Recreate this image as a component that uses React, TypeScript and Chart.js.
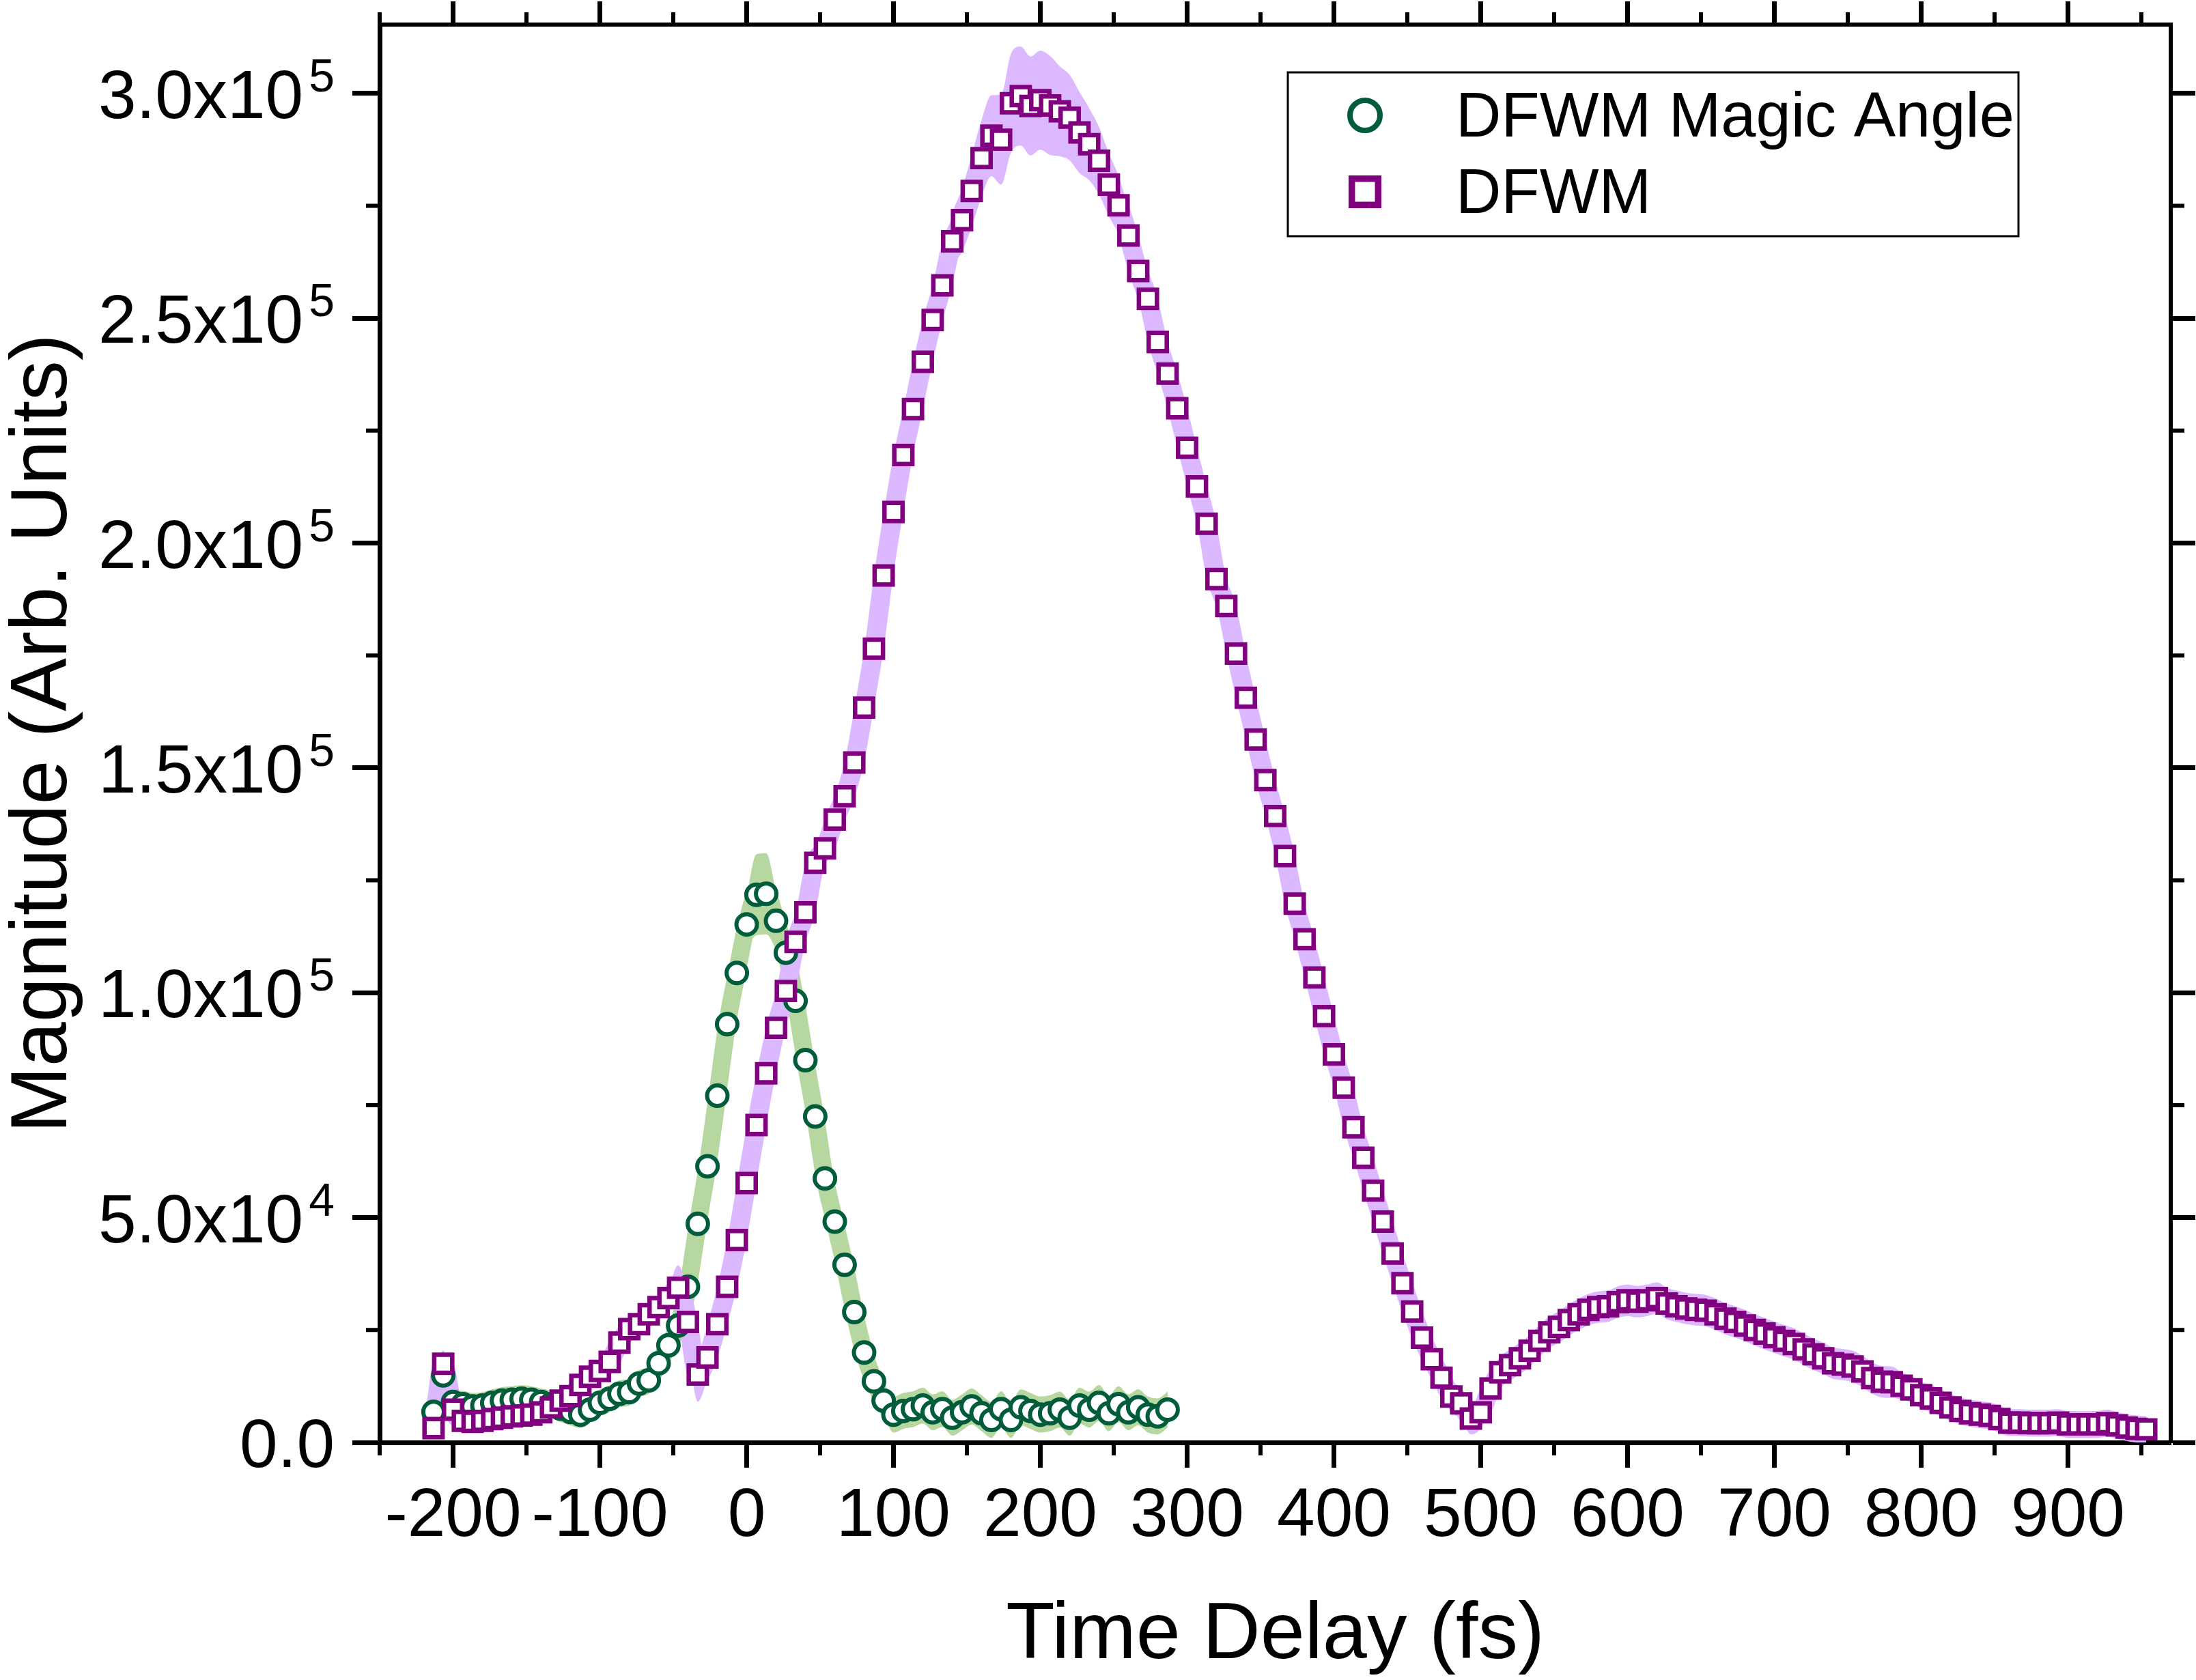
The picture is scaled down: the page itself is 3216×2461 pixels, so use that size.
import { useEffect, useRef } from 'react'
import { Chart, registerables } from 'chart.js'

Chart.register(...registerables)

const FONT = "'Liberation Sans', Arial, sans-serif"

// time delay (fs) of every scan step, one step is about 6.67 fs
const delays = [
  -213.3, -206.7, -200, -193.3, -186.7, -180, -173.3, -166.7, -160, -153.3,
  -146.7, -140, -133.3, -126.7, -120, -113.3, -106.7, -100, -93.3, -86.7,
  -80, -73.3, -66.7, -60, -53.3, -46.7, -40, -33.3, -26.7, -20,
  -13.3, -6.7, 0, 6.7, 13.3, 20, 26.7, 33.3, 40, 46.7,
  53.3, 60, 66.7, 73.3, 80, 86.7, 93.3, 100, 106.7, 113.3,
  120, 126.7, 133.3, 140, 146.7, 153.3, 160, 166.7, 173.3, 180,
  186.7, 193.3, 200, 206.7, 213.3, 220, 226.7, 233.3, 240, 246.7,
  253.3, 260, 266.7, 273.3, 280, 286.7, 293.3, 300, 306.7, 313.3,
  320, 326.7, 333.3, 340, 346.7, 353.3, 360, 366.7, 373.3, 380,
  386.7, 393.3, 400, 406.7, 413.3, 420, 426.7, 433.3, 440, 446.7,
  453.3, 460, 466.7, 473.3, 480, 486.7, 493.3, 500, 506.7, 513.3,
  520, 526.7, 533.3, 540, 546.7, 553.3, 560, 566.7, 573.3, 580,
  586.7, 593.3, 600, 606.7, 613.3, 620, 626.7, 633.3, 640, 646.7,
  653.3, 660, 666.7, 673.3, 680, 686.7, 693.3, 700, 706.7, 713.3,
  720, 726.7, 733.3, 740, 746.7, 753.3, 760, 766.7, 773.3, 780,
  786.7, 793.3, 800, 806.7, 813.3, 820, 826.7, 833.3, 840, 846.7,
  853.3, 860, 866.7, 873.3, 880, 886.7, 893.3, 900, 906.7, 913.3,
  920, 926.7, 933.3, 940, 946.7, 953.3,
]

// DFWM magic angle (first 76 delays)
const magicAngle = [
  6800, 14900, 9000, 8500, 8000, 8200, 8800, 9300, 9500, 9700,
  9500, 9000, 8500, 7500, 6800, 6200, 7300, 8800, 9700, 10800,
  11200, 13100, 13800, 17600, 21600, 26000, 34600, 48600, 61400, 77100,
  93000, 104400, 115200, 121800, 122000, 116000, 108900, 98200, 85000, 72500,
  58700, 49100, 39500, 29000, 20000, 13600, 9300, 6200, 7000, 7400,
  8200, 6700, 7400, 5500, 6700, 8000, 6500, 5000, 7400, 5000,
  7800, 7000, 6200, 6500, 7300, 5500, 8200, 7300, 8800, 6500,
  8500, 6700, 7800, 6200, 5800, 7300,
]

const magicAngleErr = [
  3000, 3000, 3000, 3000, 3000, 3000, 3000, 3000, 3000, 3000,
  3000, 3000, 3000, 3000, 3000, 3000, 3000, 3000, 3000, 3000,
  3000, 3000, 3000, 3000, 3000, 3000, 3000, 3000, 3000, 3000,
  3000, 3000, 6000, 9000, 9000, 6500, 4500, 3500, 3000, 3000,
  3000, 3000, 3000, 3000, 3000, 3000, 3000, 4000, 4000, 4000,
  4000, 4000, 4000, 4000, 4000, 4000, 4000, 4000, 4000, 4000,
  4000, 4000, 4000, 4000, 4000, 4000, 4000, 4000, 4000, 4000,
  4000, 4000, 4000, 4000, 4000, 4000,
]

// DFWM (all delays)
const dfwm = [
  3200, 17500, 7300, 4800, 4600, 4800, 5200, 5500, 5800, 6000,
  6200, 6700, 7800, 9300, 10300, 12800, 14600, 15900, 17900, 22200,
  25200, 26300, 28500, 30100, 32100, 34400, 26800, 15100, 18900, 26300,
  34600, 45000, 57700, 70600, 82100, 92200, 100400, 111300, 117900, 128900,
  132100, 138500, 143700, 151200, 163400, 176500, 192800, 206900, 219600, 229800,
  240300, 249600, 257300, 267100, 271800, 278300, 285600, 290600, 289700, 297800,
  299400, 297200, 298500, 297300, 296000, 294600, 291300, 288700, 285000, 279700,
  275100, 268400, 260500, 254300, 244700, 237700, 230000, 221200, 212600, 204300,
  192000, 186000, 175400, 165600, 156300, 147300, 139300, 130400, 119800, 111900,
  103400, 94800, 86300, 78900, 70100, 63300, 56000, 49100, 42000, 35400,
  29100, 23300, 18500, 14400, 10200, 8700, 5300, 6700, 12000, 15600,
  17200, 18700, 20400, 22600, 24500, 25700, 27200, 28500, 29500, 30100,
  30300, 31200, 31600, 31300, 31600, 32100, 30900, 30300, 29800, 29500,
  29300, 28500, 27500, 26800, 26000, 25000, 24200, 23400, 22600, 21900,
  20700, 19600, 18700, 17600, 17300, 16900, 15800, 14300, 13500, 13400,
  12600, 11800, 10500, 9800, 8800, 7800, 7000, 6500, 6200, 5900,
  5200, 4400, 4400, 4300, 4300, 4300, 4400, 4000, 4000, 4000,
  4000, 4300, 3800, 3300, 3000, 2900,
]

const dfwmErr = [
  2500, 3000, 2500, 2500, 2500, 2500, 2500, 2500, 2500, 2500,
  2500, 2500, 2500, 2500, 2500, 2500, 2500, 2500, 2500, 2500,
  2500, 2500, 2500, 2500, 2500, 5000, 6000, 6000, 4500, 3500,
  3500, 3500, 3500, 3500, 3500, 3500, 3500, 3500, 3500, 3500,
  3500, 3500, 3500, 3500, 3500, 3500, 3500, 3500, 3500, 3500,
  3500, 4000, 5000, 6000, 7000, 8000, 8500, 9000, 10000, 11000,
  11000, 11000, 11000, 11000, 10000, 9500, 9000, 8000, 7500, 7000,
  6500, 6000, 5500, 5000, 4500, 4000, 3500, 3500, 3500, 3500,
  3500, 3500, 3500, 3500, 3500, 3500, 3500, 3500, 3500, 3500,
  3500, 3500, 3500, 3500, 3500, 3500, 3500, 3500, 3500, 3500,
  3500, 3500, 3500, 3500, 3500, 3500, 3500, 3500, 3500, 3500,
  3500, 3500, 3500, 3500, 3500, 3500, 3500, 3500, 3500, 3500,
  3500, 3500, 3500, 3500, 3500, 3500, 3500, 3500, 3500, 3500,
  3500, 3500, 3500, 3500, 3500, 3500, 3500, 3500, 3500, 3500,
  3500, 3500, 3500, 3500, 3500, 3500, 3500, 3500, 3500, 3500,
  3000, 3000, 3000, 3000, 3000, 3000, 3000, 3000, 3000, 3000,
  3000, 3000, 3000, 3000, 3000, 3000, 3000, 3000, 3000, 3000,
  3000, 3000, 3000, 3000, 3000, 3000,
]

const xTicks = [-200, -100, 0, 100, 200, 300, 400, 500, 600, 700, 800, 900]
const xMinorTicks = [-250, -150, -50, 50, 150, 250, 350, 450, 550, 650, 750, 850, 950]
const yTicks = [0, 50000, 100000, 150000, 200000, 250000, 300000]
const yMinorTicks = [25000, 75000, 125000, 175000, 225000, 275000]
const yTickMantissa = ['0.0', '5.0x10', '1.0x10', '1.5x10', '2.0x10', '2.5x10', '3.0x10']
const yTickPower = ['', '4', '5', '5', '5', '5', '5']

const GREEN = '#005C3A'
const GREEN_BAND = '#B6D8A0'
const PURPLE = '#800080'
const PURPLE_BAND = '#DCB8FF'

function toPoints(values: number[], offsets?: number[], sign = 0) {
  return values.map((v, i) => ({ x: delays[i], y: v + sign * (offsets ? offsets[i] : 0) }))
}

// minor ticks, y labels with exponents and the legend box
const decorPlugin = {
  id: 'decor',
  afterDraw(chart: any) {
    const { ctx, chartArea, scales } = chart
    const { left, right, top, bottom } = chartArea
    ctx.save()
    ctx.strokeStyle = '#000'
    ctx.lineWidth = 6
    ctx.beginPath()
    xMinorTicks.forEach((v) => {
      const px = scales.x.getPixelForValue(v)
      ctx.moveTo(px, bottom)
      ctx.lineTo(px, bottom + 19)
      ctx.moveTo(px, top)
      ctx.lineTo(px, top - 18)
    })
    yMinorTicks.forEach((v) => {
      const py = scales.y.getPixelForValue(v)
      ctx.moveTo(left, py)
      ctx.lineTo(left - 20, py)
      ctx.moveTo(right, py)
      ctx.lineTo(right + 20, py)
    })
    ctx.stroke()

    ctx.fillStyle = '#000'
    ctx.textBaseline = 'alphabetic'
    const end = left - 66
    yTicks.forEach((v, i) => {
      const py = scales.y.getPixelForValue(v)
      ctx.font = `68px ${FONT}`
      const pow = yTickPower[i]
      const powW = pow ? ctx.measureText(pow).width : 0
      if (pow) {
        ctx.textAlign = 'left'
        ctx.fillText(pow, end - powW, py - 3)
      }
      ctx.font = `100px ${FONT}`
      ctx.textAlign = 'right'
      ctx.fillText(yTickMantissa[i], end - (pow ? powW + 8 : 0), py + 36)
    })

    // legend
    const items = [chart.data.datasets[1], chart.data.datasets[0]]
    ctx.lineWidth = 3
    ctx.strokeStyle = '#000'
    ctx.strokeRect(1886, 106, 1070, 240)
    items.forEach((ds: any, i: number) => {
      const cy = 169 + i * 112
      ctx.beginPath()
      if (i === 0) {
        ctx.lineWidth = 8
        ctx.arc(1999, cy, 22, 0, Math.PI * 2)
      } else {
        ctx.lineWidth = 9.5
        ctx.rect(1999 - 19.3, cy - 19.3, 38.6, 38.6)
      }
      ctx.fillStyle = '#fff'
      ctx.fill()
      ctx.strokeStyle = ds.pointBorderColor
      ctx.stroke()
      ctx.fillStyle = '#000'
      ctx.font = `92px ${FONT}`
      ctx.textAlign = 'left'
      ctx.fillText(ds.label, 2132, cy + 31)
    })
    ctx.restore()
  },
}

function BandChart() {
  const chartRef = useRef<HTMLCanvasElement>(null)
  const chartInstance = useRef<Chart | null>(null)

  useEffect(() => {
    if (!chartRef.current) return
    if (chartInstance.current) {
      chartInstance.current.destroy()
    }
    const ctx = chartRef.current.getContext('2d')
    if (!ctx) return

    const markers = { showLine: false, pointHoverRadius: 0 }
    const band = { pointRadius: 0, borderWidth: 0, cubicInterpolationMode: 'monotone' }

    chartInstance.current = new Chart(ctx, {
      type: 'line',
      data: {
        datasets: [
          {
            label: 'DFWM',
            data: toPoints(dfwm),
            ...markers,
            pointStyle: 'rect',
            pointRadius: 18.7,
            pointBorderWidth: 6.5,
            pointBorderColor: PURPLE,
            pointBackgroundColor: '#fff',
          },
          {
            label: 'DFWM Magic Angle',
            data: toPoints(magicAngle),
            ...markers,
            pointStyle: 'circle',
            pointRadius: 15,
            pointBorderWidth: 6,
            pointBorderColor: GREEN,
            pointBackgroundColor: '#fff',
          },
          { label: 'dfwm upper', data: toPoints(dfwm, dfwmErr, 1), ...band, fill: '+1', backgroundColor: PURPLE_BAND },
          { label: 'dfwm lower', data: toPoints(dfwm, dfwmErr, -1), ...band, fill: false },
          {
            label: 'dfwm band',
            data: toPoints(dfwm),
            pointRadius: 0,
            borderWidth: 28,
            borderColor: PURPLE_BAND,
            cubicInterpolationMode: 'monotone',
            fill: false,
          },
          { label: 'magic upper', data: toPoints(magicAngle, magicAngleErr, 1), ...band, fill: '+1', backgroundColor: GREEN_BAND },
          { label: 'magic lower', data: toPoints(magicAngle, magicAngleErr, -1), ...band, fill: false },
          {
            label: 'magic band',
            data: toPoints(magicAngle),
            pointRadius: 0,
            borderWidth: 26,
            borderColor: GREEN_BAND,
            cubicInterpolationMode: 'monotone',
            fill: false,
          },
        ] as any,
      },
      options: {
        animation: false,
        responsive: true,
        maintainAspectRatio: false,
        devicePixelRatio: 1,
        layout: { padding: 0 },
        plugins: {
          legend: { display: false },
          tooltip: { enabled: false },
        },
        scales: {
          x: {
            type: 'linear',
            position: 'bottom',
            min: -250,
            max: 970,
            afterBuildTicks: (s: any) => {
              s.ticks = xTicks.map((value) => ({ value }))
            },
            afterFit: (s: any) => {
              s.height = 348
            },
            grid: { drawOnChartArea: false, drawTicks: true, tickLength: 37, tickWidth: 7, tickColor: '#000' },
            border: { display: true, color: '#000', width: 7 },
            ticks: { color: '#000', padding: 12, autoSkip: false, maxRotation: 0, font: { family: FONT, size: 100 } },
            title: {
              display: true,
              text: 'Time Delay (fs)',
              color: '#000',
              font: { family: FONT, size: 117, lineHeight: 1 },
              padding: { top: 0, bottom: 6 },
            },
          },
          x2: {
            type: 'linear',
            position: 'top',
            min: -250,
            max: 970,
            afterBuildTicks: (s: any) => {
              s.ticks = xTicks.map((value) => ({ value }))
            },
            afterFit: (s: any) => {
              s.height = 36
            },
            grid: { drawOnChartArea: false, drawTicks: true, tickLength: 34, tickWidth: 7, tickColor: '#000' },
            border: { display: true, color: '#000', width: 6 },
            ticks: { display: false },
          },
          y: {
            type: 'linear',
            position: 'left',
            min: 0,
            max: 315300,
            afterBuildTicks: (s: any) => {
              s.ticks = yTicks.map((value) => ({ value }))
            },
            afterFit: (s: any) => {
              s.width = 556
            },
            grid: { drawOnChartArea: false, drawTicks: true, tickLength: 40, tickWidth: 7, tickColor: '#000' },
            border: { display: true, color: '#000', width: 7 },
            ticks: { display: false },
            title: {
              display: true,
              text: 'Magnitude (Arb. Units)',
              color: '#000',
              font: { family: FONT, size: 117, lineHeight: 1 },
              padding: { top: 6, bottom: 0 },
            },
          },
          y2: {
            type: 'linear',
            position: 'right',
            min: 0,
            max: 315300,
            afterBuildTicks: (s: any) => {
              s.ticks = yTicks.map((value) => ({ value }))
            },
            afterFit: (s: any) => {
              s.width = 37
            },
            grid: { drawOnChartArea: false, drawTicks: true, tickLength: 36, tickWidth: 7, tickColor: '#000' },
            border: { display: true, color: '#000', width: 6 },
            ticks: { display: false },
          },
        },
      } as any,
      plugins: [decorPlugin],
    })

    return () => {
      if (chartInstance.current) {
        chartInstance.current.destroy()
        chartInstance.current = null
      }
    }
  }, [])

  return (
    <div style={{ position: 'fixed', left: 0, top: 0, width: '3216px', height: '2461px', background: '#fff' }}>
      <canvas ref={chartRef} />
    </div>
  )
}

export default function App() {
  return <BandChart />
}
